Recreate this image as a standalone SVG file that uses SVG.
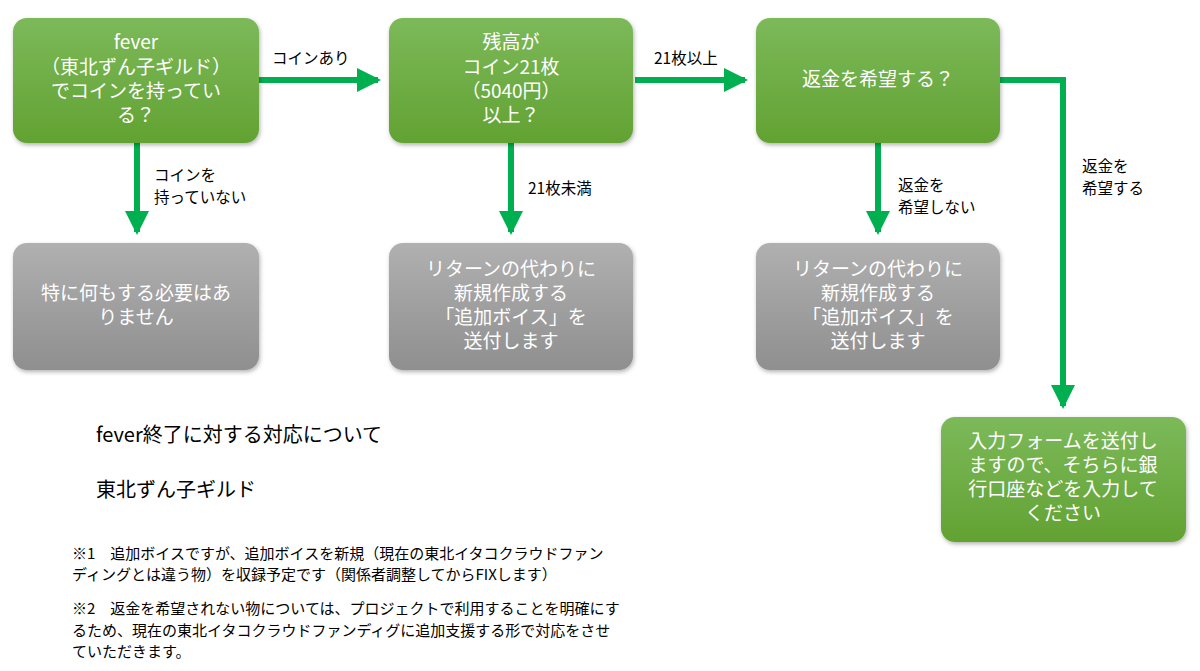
<svg xmlns="http://www.w3.org/2000/svg" width="1200" height="671" viewBox="0 0 1200 671">
<defs>
<linearGradient id="gg" x1="0" y1="0" x2="0" y2="1"><stop offset="0" stop-color="#7cb95a"/><stop offset="1" stop-color="#62a232"/></linearGradient>
<linearGradient id="gr" x1="0" y1="0" x2="0" y2="1"><stop offset="0" stop-color="#b0b0b0"/><stop offset="1" stop-color="#8f8f8f"/></linearGradient>
<filter id="sh" x="-10%" y="-10%" width="130%" height="130%"><feDropShadow dx="1" dy="2" stdDeviation="2" flood-opacity="0.3"/></filter>
<marker id="ah" markerWidth="4" markerHeight="4" refX="3.5" refY="2" orient="auto" markerUnits="strokeWidth"><path d="M0,0 L4,2 L0,4 Z" fill="#00b050"/></marker>
</defs>
<style>
text{font-family:"Noto Sans CJK JP","Noto Sans",sans-serif}
.g{fill:url(#gg);filter:url(#sh)}
.r{fill:url(#gr);filter:url(#sh)}
.nt{fill:#fff;font-size:19px;text-anchor:middle}
.lb{fill:#000;font-size:15.5px}
.c{stroke:#00b050;stroke-width:6;fill:none;marker-end:url(#ah)}
</style>
<rect width="1200" height="671" fill="#fff"/>
<g id="connectors">
<path class="c" d="M259,80 H378"/>
<path class="c" d="M635,80 H745"/>
<path class="c" d="M137,143 V232"/>
<path class="c" d="M511,143 V232"/>
<path class="c" d="M878,143 V232"/>
<path class="c" d="M1000,80 H1063 V406"/>
<text class="lb" x="272" y="64">コインあり</text>
<text class="lb" x="654" y="64">21枚以上</text>
<text class="lb" x="154" y="181">コインを</text>
<text class="lb" x="154" y="203">持っていない</text>
<text class="lb" x="528" y="194">21枚未満</text>
<text class="lb" x="898" y="191">返金を</text>
<text class="lb" x="898" y="213">希望しない</text>
<text class="lb" x="1082" y="172">返金を</text>
<text class="lb" x="1082" y="194">希望する</text>
</g>
<g id="n1"><rect class="g" x="13" y="18" width="246" height="125" rx="14"/>
<text class="nt" x="136" y="49">fever</text><text class="nt" x="136" y="74">（東北ずん子ギルド）</text><text class="nt" x="136" y="98">でコインを持ってい</text><text class="nt" x="136" y="122">る？</text></g>
<g id="n2"><rect class="g" x="389" y="18" width="244" height="125" rx="14"/>
<text class="nt" x="511" y="49">残高が</text><text class="nt" x="511" y="74">コイン21枚</text><text class="nt" x="511" y="98">（5040円）</text><text class="nt" x="511" y="122">以上？</text></g>
<g id="n3"><rect class="g" x="756" y="18" width="244" height="125" rx="14"/>
<text class="nt" x="878" y="86">返金を希望する？</text></g>
<g id="n4"><rect class="r" x="13" y="243" width="246" height="127" rx="14"/>
<text class="nt" x="136" y="300">特に何もする必要はあ</text><text class="nt" x="136" y="324">りません</text></g>
<g id="n5"><rect class="r" x="389" y="243" width="244" height="127" rx="14"/>
<text class="nt" x="511" y="276">リターンの代わりに</text><text class="nt" x="511" y="300">新規作成する</text><text class="nt" x="511" y="324">「追加ボイス」を</text><text class="nt" x="511" y="348">送付します</text></g>
<g id="n6"><rect class="r" x="756" y="243" width="244" height="127" rx="14"/>
<text class="nt" x="878" y="276">リターンの代わりに</text><text class="nt" x="878" y="300">新規作成する</text><text class="nt" x="878" y="324">「追加ボイス」を</text><text class="nt" x="878" y="348">送付します</text></g>
<g id="n7"><rect class="g" x="941" y="417" width="245" height="125" rx="14"/>
<text class="nt" x="1063" y="448">入力フォームを送付し</text><text class="nt" x="1063" y="472">ますので、そちらに銀</text><text class="nt" x="1063" y="496">行口座などを入力して</text><text class="nt" x="1063" y="520">ください</text></g>
<g id="notes" fill="#000">
<text x="96" y="442" font-size="20">fever終了に対する対応について</text>
<text x="96" y="497" font-size="20">東北ずん子ギルド</text>
<g font-size="15">
<text x="72" y="559">※1　追加ボイスですが、追加ボイスを新規（現在の東北イタコクラウドファン</text>
<text x="72" y="580">ディングとは違う物）を収録予定です（関係者調整してからFIXします）</text>
<text x="72" y="614">※2　返金を希望されない物については、プロジェクトで利用することを明確にす</text>
<text x="72" y="636">るため、現在の東北イタコクラウドファンディグに追加支援する形で対応をさせ</text>
<text x="72" y="657">ていただきます。</text>
</g></g>
</svg>
